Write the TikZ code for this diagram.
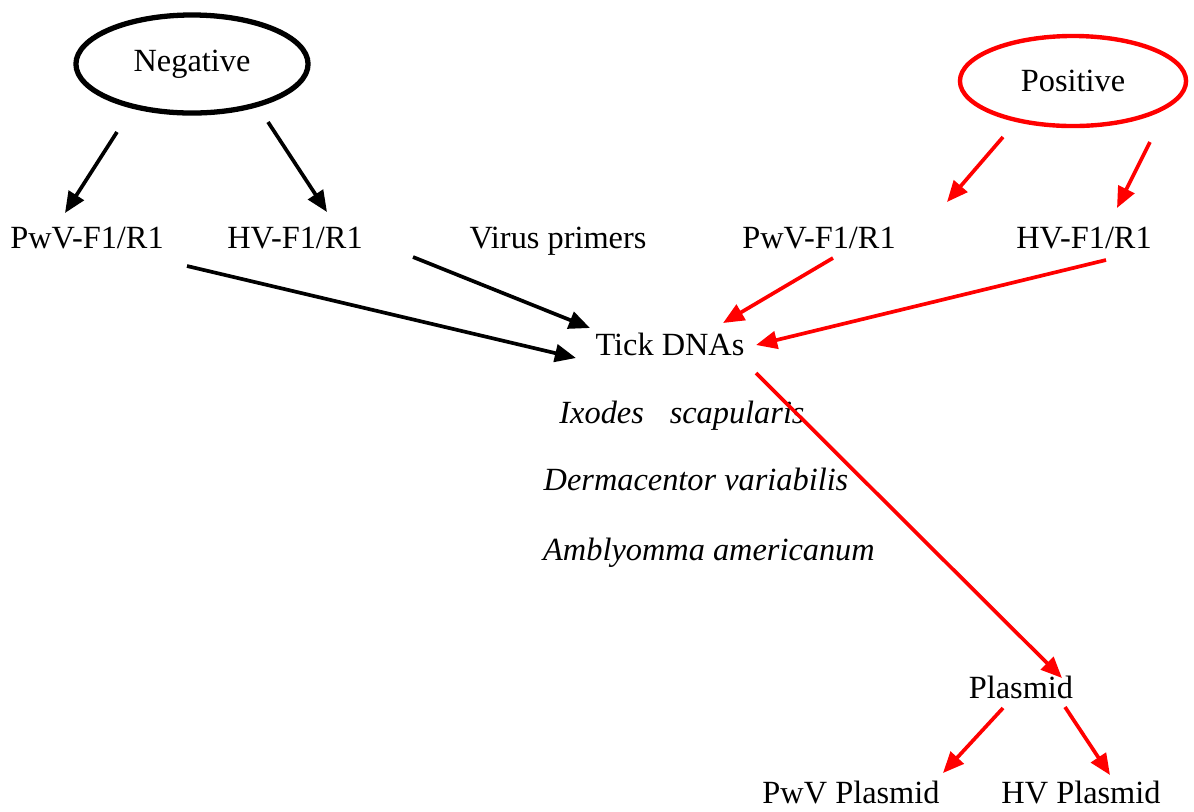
\documentclass[tikz,border=0pt]{standalone}
\usepackage{fontspec}
\setmainfont{Liberation Serif}
\usetikzlibrary{arrows.meta,shapes.geometric}

\begin{document}
\begin{tikzpicture}[x=0.01cm, y=0.01cm,
	every node/.style={inner sep=0pt, font=\fontsize{9.2}{11}\selectfont},
	lbl/.style={anchor=base},
	oval/.style={draw, ellipse, line width=1.5pt},
	arr/.style={-{Triangle[length=6pt,width=5pt]}, line width=1.05pt},
	redarr/.style={arr, red}]
	\useasboundingbox (0,0) rectangle (1194,-811);
	% top ovals
	\node [oval, minimum width=2.32cm, minimum height=0.98cm] (neg) at (192,-64) {Negative};
	\node [oval, draw=red, line width=1.25pt, minimum width=2.26cm, minimum height=0.9cm] (pos) at (1073,-81) {Positive};
	% primers row
	\node [lbl] (pwvneg) at (87,-248) {PwV-F1/R1};
	\node [lbl] (hvneg) at (295,-248) {HV-F1/R1};
	\node [lbl] (virus) at (558,-248) {Virus primers};
	\node [lbl] (pwvpos) at (819,-248) {PwV-F1/R1};
	\node [lbl] (hvpos) at (1084,-248) {HV-F1/R1};
	% ticks
	\node [lbl] (tick) at (670,-355) {Tick DNAs};
	\node [lbl] (ixodes) at (682,-423) {\textit{Ixodes}\hspace{0.8em}\textit{scapularis}};
	\node [lbl] (derma) at (696,-490) {\textit{Dermacentor variabilis}};
	\node [lbl] (ambly) at (709,-560) {\textit{Amblyomma americanum}};
	% plasmids
	\node [lbl] (plasmid) at (1021,-698) {Plasmid};
	\node [lbl] (pwvpl) at (851,-803) {PwV Plasmid};
	\node [lbl] (hvpl) at (1081,-803) {HV Plasmid};
	% arrow ends
	\coordinate (neg-l) at (117,-132);
	\coordinate (neg-r) at (268,-122);
	\coordinate (pwvneg-t) at (65,-213);
	\coordinate (hvneg-t) at (327,-212);
	\coordinate (pwvneg-b) at (187,-266);
	\coordinate (hvneg-b) at (413,-257);
	\coordinate (tick-w) at (576,-358);
	\coordinate (tick-nw) at (590,-328);
	\coordinate (pos-l) at (1003,-137);
	\coordinate (pos-r) at (1150,-142);
	\coordinate (pwvpos-t) at (947,-202);
	\coordinate (hvpos-t) at (1117,-208);
	\coordinate (pwvpos-b) at (833,-258);
	\coordinate (hvpos-b) at (1106,-260);
	\coordinate (tick-ne) at (723,-323);
	\coordinate (tick-e) at (756,-345);
	\coordinate (tick-se) at (756,-373);
	\coordinate (plasmid-t) at (1062,-678);
	\coordinate (plasmid-l) at (1003,-708);
	\coordinate (plasmid-r) at (1065,-707);
	\coordinate (pwvpl-t) at (943,-773);
	\coordinate (hvpl-t) at (1110,-775);
	% negative side
	\draw [arr] (neg-l) -- (pwvneg-t);
	\draw [arr] (neg-r) -- (hvneg-t);
	\draw [arr] (pwvneg-b) -- (tick-w);
	\draw [arr] (hvneg-b) -- (tick-nw);
	% positive side
	\draw [redarr] (pos-l) -- (pwvpos-t);
	\draw [redarr] (pos-r) -- (hvpos-t);
	\draw [redarr] (pwvpos-b) -- (tick-ne);
	\draw [redarr] (hvpos-b) -- (tick-e);
	\draw [redarr] (tick-se) -- (plasmid-t);
	\draw [redarr] (plasmid-l) -- (pwvpl-t);
	\draw [redarr] (plasmid-r) -- (hvpl-t);
\end{tikzpicture}
\end{document}
